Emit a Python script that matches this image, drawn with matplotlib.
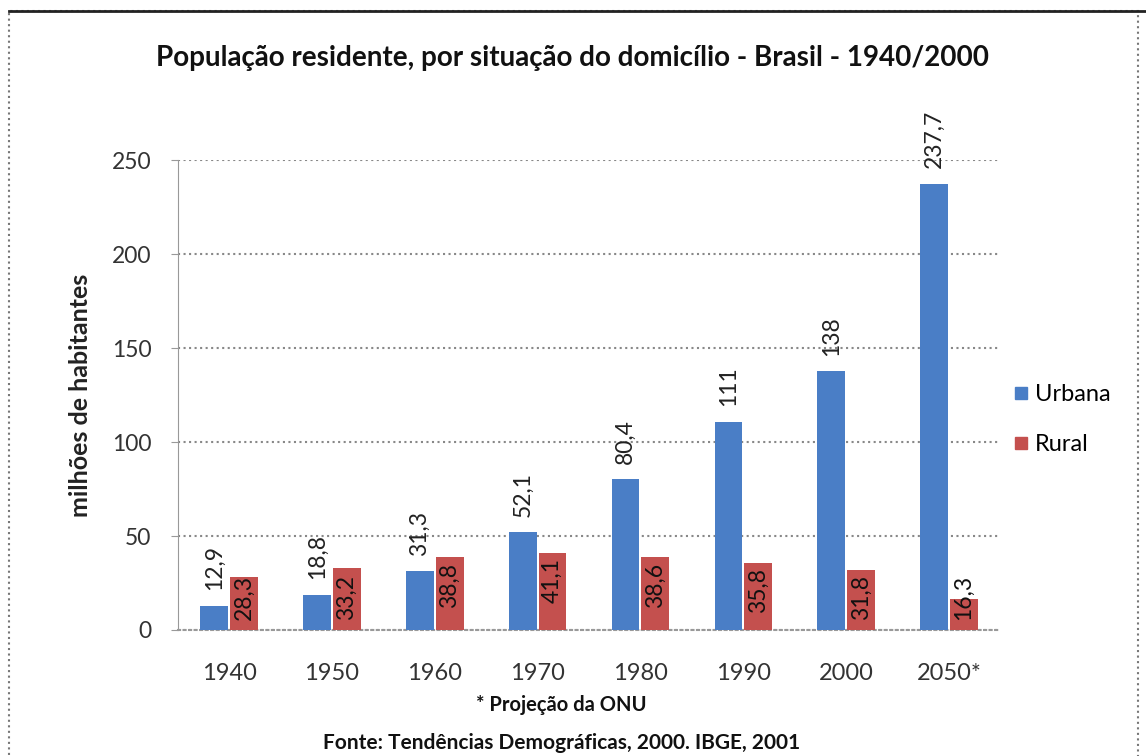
import matplotlib.pyplot as plt
import numpy as np
from matplotlib.patches import Rectangle
from matplotlib.lines import Line2D

# dados (milhões de habitantes)
anos = ['1940', '1950', '1960', '1970', '1980', '1990', '2000', '2050*']
urbana = [12.9, 18.8, 31.3, 52.1, 80.4, 111, 138, 237.7]
rural = [28.3, 33.2, 38.8, 41.1, 38.6, 35.8, 31.8, 16.3]
yticks = [0, 50, 100, 150, 200, 250]

AZUL = '#4a7ec6'
VERMELHO = '#c4504e'

plt.rcParams['font.family'] = ['Lato', 'DejaVu Sans']


def fmt(v):
    """formata número com vírgula decimal"""
    s = f'{v:g}'
    return s.replace('.', ',')


fig = plt.figure(figsize=(11.46, 7.56), dpi=100)
ax = fig.add_axes([0.155, 0.1667, 0.718, 0.621])

x = np.arange(len(anos))
w = 0.27
b1 = ax.bar(x - w / 2 - 0.01, urbana, w, color=AZUL, label='Urbana', zorder=3)
b2 = ax.bar(x + w / 2 + 0.01, rural, w, color=VERMELHO, label='Rural', zorder=3)

# rótulos de dados
for rect, v in zip(b1, urbana):
    ax.annotate(fmt(v), (rect.get_x() + rect.get_width() / 2, v),
                xytext=(0, 11), textcoords='offset points',
                rotation=90, ha='center', va='bottom', fontsize=16.5,
                color='#222222')
# rótulos dentro da barra (extremidade interna); barras curtas: ancorado embaixo
for rect, v in zip(b2, rural):
    cx = rect.get_x() + rect.get_width() / 2
    if v < 34:
        ax.annotate(fmt(v), (cx, 0), xytext=(0, 7), textcoords='offset points',
                    rotation=90, ha='center', va='bottom', fontsize=16.5,
                    color='#111111', zorder=4)
    else:
        ax.annotate(fmt(v), (cx, v), xytext=(0, -4), textcoords='offset points',
                    rotation=90, ha='center', va='top', fontsize=16.5,
                    color='#111111', zorder=4)

ax.set_xlim(-0.5, len(anos) - 0.5)
ax.set_ylim(0, 250)
ax.set_yticks(yticks)
ax.set_yticklabels([str(t) for t in yticks], fontsize=16.5, color='#333333')
ax.set_xticks(x)
ax.set_xticklabels(anos, fontsize=17, color='#333333')
ax.tick_params(axis='x', length=0, pad=24)
ax.tick_params(axis='y', length=5, color='#999999', pad=14)

ax.yaxis.grid(True, linestyle=':', color='#888888', linewidth=1.5, zorder=0)
for s in ['top', 'right']:
    ax.spines[s].set_visible(False)
ax.spines['left'].set_color('#999999')
ax.spines['bottom'].set_color('#999999')
ax.spines['bottom'].set_linestyle(':')
ax.spines['bottom'].set_linewidth(1.5)

ax.set_ylabel('milhões de habitantes', fontsize=18, fontweight='bold',
              labelpad=14, color='#222222')

# legenda
handles = [Line2D([], [], marker='s', linestyle='none', markersize=9,
                  color=AZUL),
           Line2D([], [], marker='s', linestyle='none', markersize=9,
                  color=VERMELHO)]
fig.legend(handles, ['Urbana', 'Rural'], loc='center left',
           bbox_to_anchor=(0.863, 0.445), frameon=False, fontsize=17,
           handletextpad=0.15, labelspacing=1.25, handlelength=0.9)

# títulos e textos
fig.text(0.5, 0.923, 'População residente, por situação do domicílio - Brasil - 1940/2000',
         ha='center', va='center', fontsize=20, fontweight='bold', color='#111111')
fig.text(0.49, 0.067, '* Projeção da ONU', ha='center', va='center',
         fontsize=14.5, fontweight='bold', color='#111111')
fig.text(0.49, 0.017, 'Fonte: Tendências Demográficas, 2000. IBGE, 2001',
         ha='center', va='center', fontsize=15, fontweight='bold', color='#111111')

# moldura pontilhada
fig.patches.append(Rectangle((0.008, -0.01), 0.985, 0.995, transform=fig.transFigure,
                             fill=False, edgecolor='#777777', linestyle=':',
                             linewidth=1.5))
fig.lines.append(Line2D([0.008, 1.0], [0.985, 0.985], transform=fig.transFigure,
                        color='#222222', linewidth=2))

fig.savefig('out.png', dpi=100)
